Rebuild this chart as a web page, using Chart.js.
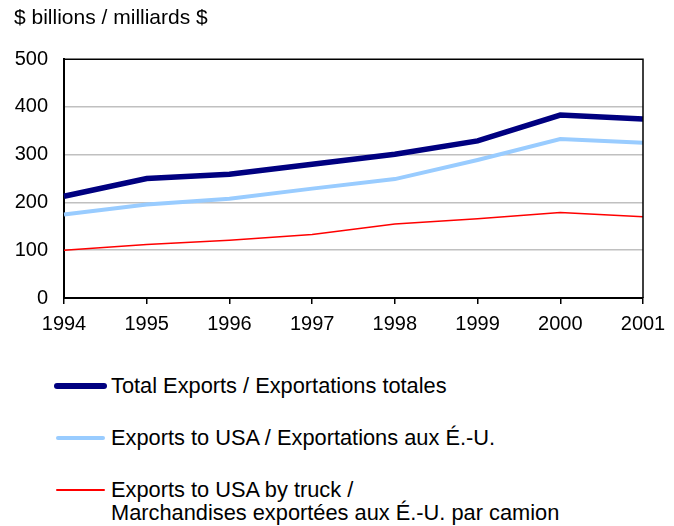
<!DOCTYPE html>
<html>
<head>
<meta charset="utf-8">
<script src="https://cdn.jsdelivr.net/npm/chart.js@4"></script>
<style>
  html, body { margin: 0; padding: 0; background: #fff; }
  #wrap { position: relative; width: 674px; height: 526px; font-family: "Liberation Sans", Arial, sans-serif; }
  #chart { position: absolute; left: 0; top: 0; }
  .swatch { position: absolute; border-radius: 3px; }
  .txt { position: absolute; font-size: 21.8px; line-height: 23px; color: #000; white-space: nowrap; }
</style>
</head>
<body>
<div id="wrap">
  <canvas id="chart" width="674" height="340"></canvas>
  <div id="legend"></div>
</div>
<script>
const years = ['1994', '1995', '1996', '1997', '1998', '1999', '2000', '2001']
const totalExports = [213, 250, 259, 280, 301, 329, 383, 375]
const exportsUSA = [175, 196, 208, 229, 249, 289, 333, 325]
const exportsTruck = [100, 112, 121, 133, 155, 166, 179, 170]

const labelTotal = ['Total Exports / Exportations totales']
const labelUSA = ['Exports to USA / Exportations aux É.-U.']
const labelTruck = ['Exports to USA by truck /', 'Marchandises exportées aux É.-U. par camion']

const datasets = [
  {label: labelTotal, data: totalExports, borderColor: '#000080', borderWidth: 5.5},
  {label: labelUSA, data: exportsUSA, borderColor: '#99ccff', borderWidth: 4},
  {label: labelTruck, data: exportsTruck, borderColor: '#ff0000', borderWidth: 1.5},
]

// frame round the plot area
const frame = {
  id: 'frame',
  afterDraw(chart) {
    const {ctx, chartArea: a} = chart
    ctx.save()
    ctx.strokeStyle = '#000'
    ctx.lineWidth = 1.5
    ctx.beginPath()
    ctx.moveTo(a.left, a.top)
    ctx.lineTo(a.right, a.top)
    ctx.lineTo(a.right, a.bottom)
    ctx.stroke()
    ctx.restore()
  }
}

new Chart(document.getElementById('chart'), {
  type: 'line',
  data: {
    labels: years,
    datasets: datasets.map(d => ({
      label: d.label.join(' '),
      data: d.data,
      borderColor: d.borderColor,
      backgroundColor: d.borderColor,
      borderWidth: d.borderWidth,
      pointRadius: 0,
      tension: 0,
      fill: false,
    })),
  },
  options: {
    responsive: false,
    animation: false,
    layout: {padding: {left: 14, right: 31, top: 0, bottom: 0}},
    plugins: {
      legend: {display: false},
      tooltip: {enabled: false},
      title: {
        display: true,
        text: '$ billions / milliards $',
        align: 'start',
        color: '#000',
        font: {family: 'Liberation Sans', size: 21, weight: 'normal'},
        padding: {top: 6, bottom: 28},
      },
    },
    scales: {
      x: {
        afterFit(scale) { scale.height = 42 },
        grid: {drawOnChartArea: false, drawTicks: true, tickLength: 6, color: '#000', lineWidth: 1.5},
        border: {color: '#000', width: 2},
        ticks: {color: '#000', padding: 8, maxRotation: 0, font: {family: 'Liberation Sans', size: 20}},
      },
      y: {
        min: 0,
        max: 500,
        afterFit(scale) { scale.width = 50 },
        grid: {
          drawTicks: false,
          color: ctx => (ctx.tick.value === 0 || ctx.tick.value === 500) ? 'rgba(0,0,0,0)' : '#c0c0c0',
          lineWidth: 1.5,
        },
        border: {color: '#000', width: 2},
        ticks: {stepSize: 100, color: '#000', padding: 16, font: {family: 'Liberation Sans', size: 20}},
      },
    },
  },
  plugins: [frame],
})

// legend below the chart
const rows = [
  {y: 386, x0: 54, x1: 107},
  {y: 438, x0: 56, x1: 105},
  {y: 490, x0: 56, x1: 105},
]
const legend = document.getElementById('legend')
datasets.forEach((d, i) => {
  const r = rows[i]
  const sw = document.createElement('div')
  sw.className = 'swatch'
  sw.style.left = r.x0 + 'px'
  sw.style.width = (r.x1 - r.x0) + 'px'
  sw.style.top = (r.y - d.borderWidth / 2) + 'px'
  sw.style.height = d.borderWidth + 'px'
  sw.style.background = d.borderColor
  legend.appendChild(sw)
  const t = document.createElement('div')
  t.className = 'txt'
  t.style.left = '111px'
  t.style.top = (r.y - 12) + 'px'
  t.innerHTML = d.label.join('<br>')
  legend.appendChild(t)
})
</script>
</body>
</html>
